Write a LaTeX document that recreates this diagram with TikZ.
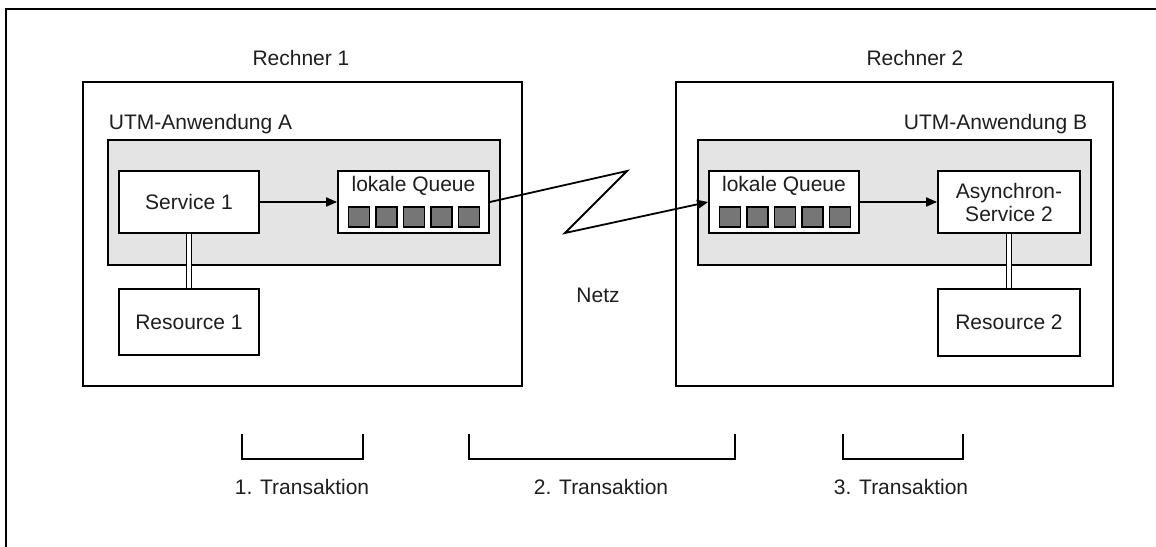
\documentclass[tikz,border=0pt]{standalone}
\usepackage{fontspec}
\setmainfont{Liberation Sans}
\usetikzlibrary{arrows.meta}
\definecolor{appgray}{RGB}{228,228,228}
\definecolor{qgray}{RGB}{118,118,118}
\definecolor{txt}{RGB}{30,30,30}
\begin{document}
\begin{tikzpicture}[x=1pt,y=-1pt,
  line width=1.8pt,
  every node/.style={font=\fontsize{21}{23}\selectfont, inner sep=0pt, text=txt},
  appbox/.style={draw, fill=appgray, rectangle},
  box/.style={draw, fill=white, rectangle, align=center},
  qsq/.style={draw, fill=qgray, line width=1.4pt, minimum width=21pt, minimum height=20pt},
  arr/.style={-{Triangle[length=11pt,width=9pt]}},
  dbl/.style={double, double distance=3.4pt, line width=1.5pt},
  brk/.style={line width=1.8pt},
]
\useasboundingbox (0,0) rectangle (1156,546);
% outer frame (top and left only)
\coordinate (f0) at (6,9);
\coordinate (f1) at (1160,9);
\coordinate (f2) at (6,550);
\draw[line width=2pt] (f1) -- (f0) -- (f2);

% hosts
\node[draw, minimum width=439pt, minimum height=304pt] (h1) at (302.5,234) {};
\node[draw, minimum width=437pt, minimum height=304pt] (h2) at (894.5,234) {};
\node[anchor=base] (h1t) at (301,65) {Rechner 1};
\node[anchor=base] (h2t) at (915,65) {Rechner 2};

% applications
\node[appbox, minimum width=392pt, minimum height=125pt] (appA) at (304,202.5) {};
\node[appbox, minimum width=393pt, minimum height=125pt] (appB) at (894.5,202.5) {};
\node[anchor=base west] (appAt) at (108,129) {UTM-Anwendung A};
\node[anchor=base east] (appBt) at (1088,129) {UTM-Anwendung B};

% service / resource boxes
\node[box, minimum width=140pt, minimum height=62pt] (s1) at (189,202) {Service 1};
\node[box, minimum width=140pt, minimum height=66pt] (r1) at (189,322) {Resource 1};
\node[box, minimum width=142pt, minimum height=62pt] (s2) at (1009,202) {Asynchron-\\Service 2};
\node[box, minimum width=142pt, minimum height=67pt] (r2) at (1009,322.5) {Resource 2};

% queues
\node[box, minimum width=151pt, minimum height=62pt] (qa) at (413.5,202) {};
\node[anchor=base] (qat) at (413.5,191.5) {lokale Queue};
\node[box, minimum width=150pt, minimum height=62pt] (qb) at (784,202) {};
\node[anchor=base] (qbt) at (784,191.5) {lokale Queue};
\foreach \i in {0,...,4} {
  \node[qsq] (qa\i) at ({358.8+27.5*\i},217) {};
  \node[qsq] (qb\i) at ({729.8+27.5*\i},217) {};
}

% connectors
\draw[arr] (s1.east) -- (qa.west);
\draw[arr] (qb.east) -- (s2.west);
\draw[dbl] (s1.south) -- (r1.north);
\draw[dbl] (s2.south) -- (r2.north);
\coordinate (z1) at (627,171);
\coordinate (z2) at (565,233);
\draw[arr, line join=miter] (qa.east) -- (z1) -- (z2) -- (qb.west);
\node[anchor=base] (netz) at (598,302) {Netz};

% transactions
\coordinate (b1a) at (242,434); \coordinate (b1b) at (242,459);
\coordinate (b1c) at (363,459); \coordinate (b1d) at (363,434);
\draw[brk] (b1a) -- (b1b) -- (b1c) -- (b1d);
\coordinate (b2a) at (469,434); \coordinate (b2b) at (469,459);
\coordinate (b2c) at (735,459); \coordinate (b2d) at (735,434);
\draw[brk] (b2a) -- (b2b) -- (b2c) -- (b2d);
\coordinate (b3a) at (843,434); \coordinate (b3b) at (843,459);
\coordinate (b3c) at (963,459); \coordinate (b3d) at (963,434);
\draw[brk] (b3a) -- (b3b) -- (b3c) -- (b3d);
\node[anchor=base] (t1) at (302,494) {1. Transaktion};
\node[anchor=base] (t2) at (601,494) {2. Transaktion};
\node[anchor=base] (t3) at (901,494) {3. Transaktion};
\end{tikzpicture}
\end{document}
